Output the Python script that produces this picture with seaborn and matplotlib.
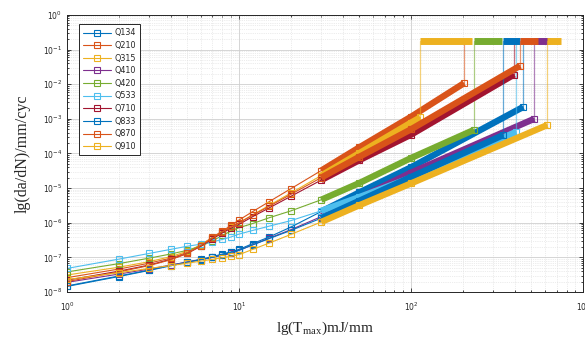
import pandas as pd
import seaborn as sns
import matplotlib.pyplot as plt
from matplotlib.ticker import LogLocator, NullFormatter

# series names and MATLAB-like colours
names = ["Q134", "Q210", "Q315", "Q410", "Q420", "Q533", "Q710", "Q833", "Q870", "Q910"]
colors = ["#0072BD", "#D95319", "#EDB120", "#7E2F8E", "#77AC30",
          "#4DBEEE", "#A2142F", "#0072BD", "#D95319", "#EDB120"]

t_points = [1, 2, 3, 4, 5, 6, 7, 8, 9, 10, 12, 15, 20, 30, 50, 100]

q134 = [1.5e-8, 2.9e-8, 4.3e-8, 5.9e-8, 7.4e-8, 8.8e-8, 1.05e-7, 1.25e-7, 1.45e-7, 1.7e-7,
        2.5e-7, 3.9e-7, 7.5e-7, 2.1e-6, 7.5e-6, 4.0e-5]
q210 = [2.6e-8, 4.6e-8, 6.8e-8, 9.5e-8, 1.4e-7, 2.3e-7, 3.8e-7, 5.8e-7, 8.4e-7, 1.2e-6,
        2.1e-6, 4.1e-6, 9.6e-6, 3.2e-5, 1.5e-4, 1.15e-3]
q315 = [3.1e-8, 5.2e-8, 7.5e-8, 1.05e-7, 1.5e-7, 2.3e-7, 3.6e-7, 5.3e-7, 7.5e-7, 1.0e-6,
        1.7e-6, 3.2e-6, 7.2e-6, 2.3e-5, 1.02e-4, 7.8e-4]
q410 = [1.9e-8, 3.3e-8, 4.6e-8, 6.0e-8, 7.3e-8, 8.6e-8, 1.0e-7, 1.15e-7, 1.3e-7, 1.6e-7,
        2.3e-7, 3.6e-7, 6.3e-7, 1.5e-6, 5.2e-6, 2.8e-5]
q420 = [3.8e-8, 6.6e-8, 9.5e-8, 1.25e-7, 1.6e-7, 2.1e-7, 3.0e-7, 4.3e-7, 5.8e-7, 7.2e-7,
        9.5e-7, 1.4e-6, 2.2e-6, 4.6e-6, 1.4e-5, 7.4e-5]
q533 = [4.8e-8, 8.9e-8, 1.3e-7, 1.7e-7, 2.1e-7, 2.4e-7, 2.8e-7, 3.3e-7, 3.9e-7, 4.7e-7,
        6.0e-7, 8.0e-7, 1.15e-6, 2.2e-6, 5.5e-6, 2.0e-5]
q710 = [2.2e-8, 4.0e-8, 6.0e-8, 8.8e-8, 1.3e-7, 2.1e-7, 3.4e-7, 5.1e-7, 7.0e-7, 9.0e-7,
        1.5e-6, 2.7e-6, 5.8e-6, 1.7e-5, 6.4e-5, 3.5e-4]
q833 = [1.45e-8, 2.8e-8, 4.2e-8, 5.7e-8, 7.2e-8, 8.6e-8, 1.0e-7, 1.2e-7, 1.4e-7, 1.6e-7,
        2.3e-7, 3.5e-7, 6.0e-7, 1.35e-6, 4.3e-6, 2.1e-5]
q870 = [2.0e-8, 3.8e-8, 5.8e-8, 8.5e-8, 1.3e-7, 2.2e-7, 3.6e-7, 5.5e-7, 7.8e-7, 1.0e-6,
        1.65e-6, 3.0e-6, 6.6e-6, 2.0e-5, 8.0e-5, 5.0e-4]
q910 = [2.3e-8, 3.6e-8, 4.8e-8, 5.8e-8, 6.8e-8, 7.8e-8, 8.8e-8, 9.8e-8, 1.08e-7, 1.2e-7,
        1.7e-7, 2.6e-7, 4.6e-7, 1.05e-6, 3.2e-6, 1.37e-5]
rates = [q134, q210, q315, q410, q420, q533, q710, q833, q870, q910]

# failure point of each series, the jump level and the end of the top bar
t_fail = [448, 203, 113, 519, 232, 408, 397, 343, 430, 618]
rate_fail = [2.2e-3, 1.07e-2, 1.1e-3, 1.0e-3, 4.8e-4, 4.2e-4, 1.9e-2, 3.4e-4, 3.4e-2, 6.6e-4]
bar_end = [448, 203, 225, 645, 335, 408, 397, 430, 545, 740]
top_rate = 0.178

rows = []
for name, vals, tf, rf in zip(names, rates, t_fail, rate_fail):
    for t, v in zip(t_points + [tf], vals + [rf]):
        rows.append({"series": name, "T": t, "rate": v})
df = pd.DataFrame(rows)

sns.set_style("ticks")
plt.rcParams["font.family"] = ["DejaVu Sans"]
plt.rcParams["mathtext.fontset"] = "custom"
plt.rcParams["mathtext.rm"] = "Liberation Serif"
plt.rcParams["mathtext.it"] = "Liberation Serif:italic"

fig = plt.figure(figsize=(5.85, 3.38), dpi=100)
ax = fig.add_axes([0.1145, 0.136, 0.8825, 0.82])
ax.set_xscale("log")
ax.set_yscale("log")

for name, c, tf, rf, be in zip(names, colors, t_fail, rate_fail, bar_end):
    sub = df[df["series"] == name]
    sns.lineplot(data=sub, x="T", y="rate", color=c, lw=0.8, marker="s", markersize=4,
                 markerfacecolor="none", markeredgecolor=c, markeredgewidth=0.8,
                 label=name, ax=ax, estimator=None, sort=False)
    band = sub[sub["T"] >= 30]
    sns.lineplot(data=band, x="T", y="rate", color=c, lw=4.6, ax=ax, legend=False,
                 estimator=None, sort=False, solid_capstyle="butt")
    ax.plot([tf, tf], [rf, top_rate], color=c, lw=0.9, alpha=0.6)
    if be > tf:
        ax.plot([tf, be], [top_rate, top_rate], color=c, lw=5, solid_capstyle="butt")

ax.set_xlim(1, 1000)
ax.set_ylim(1e-8, 1)
ax.xaxis.set_major_locator(LogLocator(base=10, numticks=10))
ax.yaxis.set_major_locator(LogLocator(base=10, numticks=12))
ax.xaxis.set_minor_locator(LogLocator(base=10, subs=range(2, 10), numticks=20))
ax.yaxis.set_minor_locator(LogLocator(base=10, subs=range(2, 10), numticks=20))
ax.xaxis.set_minor_formatter(NullFormatter())
ax.yaxis.set_minor_formatter(NullFormatter())

ax.grid(True, which="major", color="#cfcfcf", lw=0.6)
ax.grid(True, which="minor", color="#dadada", lw=0.5, ls=":")
ax.tick_params(which="both", direction="in", top=True, right=True, colors="#262626",
               labelsize=5.5, width=0.6)
ax.tick_params(which="major", length=3)
ax.tick_params(axis="x", which="major", pad=6)
ax.tick_params(which="minor", length=1.6)
for sp in ax.spines.values():
    sp.set_color("#262626")
    sp.set_linewidth(0.7)

ax.set_xlabel(r"lg(T$_{\mathrm{max}}$)mJ/mm", family="Liberation Serif", fontsize=11,
              labelpad=5)
ax.set_ylabel("lg(da/dN)/mm/cyc", family="Liberation Serif", fontsize=11.5, labelpad=9)

leg = ax.legend(loc="upper left", bbox_to_anchor=(0.024, 0.966), fontsize=5.8,
                frameon=True, fancybox=False, framealpha=1, edgecolor="#262626",
                handlelength=3.4, labelspacing=0.45, borderpad=0.5, handletextpad=0.4,
                borderaxespad=0)
leg.get_frame().set_linewidth(0.7)

fig.savefig("out.png", dpi=100)
